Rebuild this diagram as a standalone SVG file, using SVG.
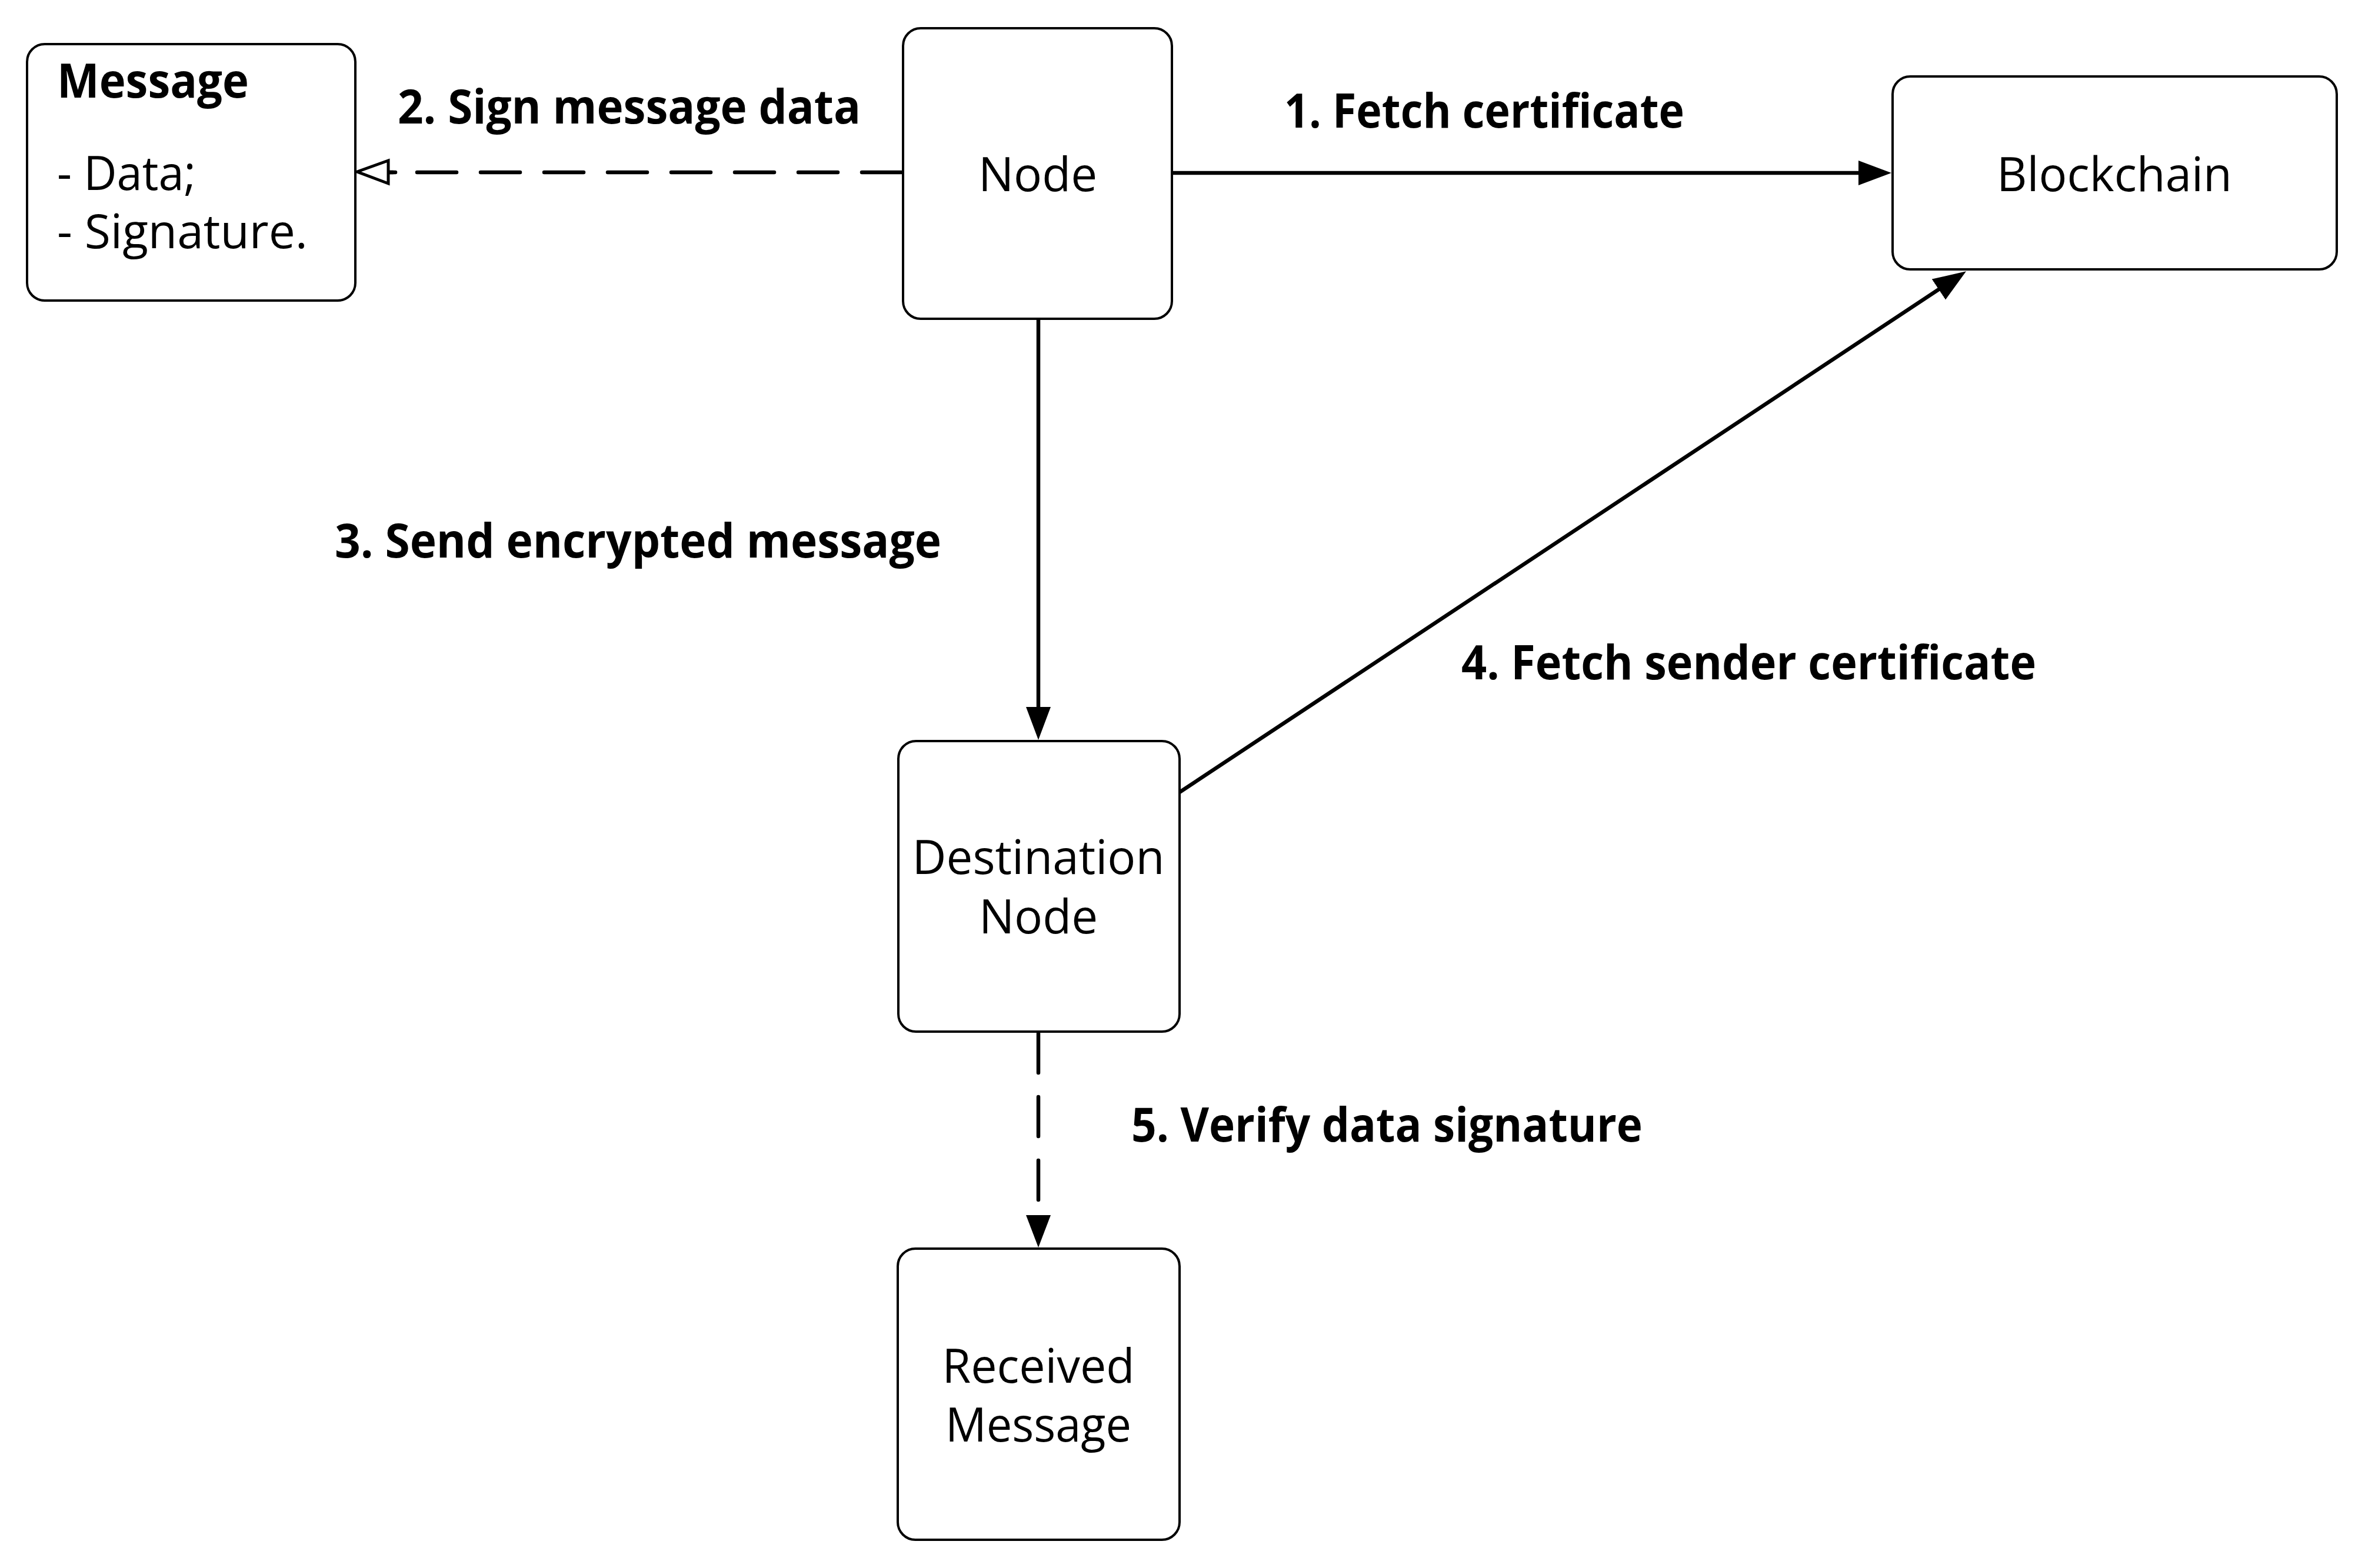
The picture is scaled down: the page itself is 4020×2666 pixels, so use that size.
<svg xmlns="http://www.w3.org/2000/svg" width="4020" height="2666" viewBox="0 0 4020 2666">
<defs>
<style>
.box{fill:#fff;stroke:#000;stroke-width:4}
.t{font-family:"Open Sans","Noto Sans",sans-serif;font-size:80px;fill:#000}
.c{text-anchor:middle}
.b{font-weight:700}
.ln{fill:none;stroke:#000;stroke-width:6.5;stroke-linecap:round}
.dash{stroke-dasharray:67 41}
</style>
<marker id="fa" viewBox="0 0 56 42" refX="2" refY="21" markerWidth="56" markerHeight="42" markerUnits="userSpaceOnUse" orient="auto">
<path d="M0,0 L56,21 L0,42 Z" fill="#000"/>
</marker>
</defs>
<rect width="4020" height="2666" fill="#fff"/>
<g id="connectors">
<path class="ln" d="M1992,294 L3161,294" marker-end="url(#fa)"/>
<path class="ln dash" d="M1532,293 L662,293"/>
<path class="ln" d="M672,293 L662,293"/>
<path d="M607,292 L660,273 L660,312 Z" fill="#fff" stroke="#000" stroke-width="5" stroke-linejoin="miter"/>
<path class="ln" d="M1765,542 L1765,1204" marker-end="url(#fa)"/>
<path class="ln" d="M2005,1347 L3297,491" marker-end="url(#fa)"/>
<path class="ln dash" d="M1765,1757 L1765,2066"/>
<path d="M1744,2066 L1786,2066 L1765,2121 Z" fill="#000"/>
</g>
<g id="message">
<rect class="box" x="46" y="75" width="558" height="436" rx="30"/>
<text class="t b" x="97" y="166" textLength="326" lengthAdjust="spacingAndGlyphs">Message</text>
<text class="t" x="97" y="323" textLength="236" lengthAdjust="spacingAndGlyphs">- Data;</text>
<text class="t" x="97" y="422" textLength="426" lengthAdjust="spacingAndGlyphs">- Signature.</text>
</g>
<g id="node">
<rect class="box" x="1535" y="48" width="457" height="494" rx="30"/>
<text class="t c" x="1764" y="325">Node</text>
</g>
<g id="blockchain">
<rect class="box" x="3217" y="130" width="755" height="328" rx="30"/>
<text class="t c" x="3594" y="325" textLength="400" lengthAdjust="spacingAndGlyphs">Blockchain</text>
</g>
<g id="destination">
<rect class="box" x="1527" y="1260" width="478" height="494" rx="30"/>
<text class="t c" x="1765" y="1486" textLength="429" lengthAdjust="spacingAndGlyphs">Destination</text>
<text class="t c" x="1765" y="1587">Node</text>
</g>
<g id="received">
<rect class="box" x="1526" y="2123" width="479" height="495" rx="30"/>
<text class="t c" x="1765" y="2351" textLength="327" lengthAdjust="spacingAndGlyphs">Received</text>
<text class="t c" x="1765" y="2451" textLength="316" lengthAdjust="spacingAndGlyphs">Message</text>
</g>
<g id="labels">
<text class="t b" x="2183" y="217" textLength="680" lengthAdjust="spacingAndGlyphs">1. Fetch certificate</text>
<text class="t b" x="676" y="210" textLength="787" lengthAdjust="spacingAndGlyphs">2. Sign message data</text>
<text class="t b" x="569" y="948" textLength="1031" lengthAdjust="spacingAndGlyphs">3. Send encrypted message</text>
<text class="t b" x="2484" y="1155" textLength="977" lengthAdjust="spacingAndGlyphs">4. Fetch sender certificate</text>
<text class="t b" x="1923" y="1941" textLength="869" lengthAdjust="spacingAndGlyphs">5. Verify data signature</text>
</g>
</svg>
